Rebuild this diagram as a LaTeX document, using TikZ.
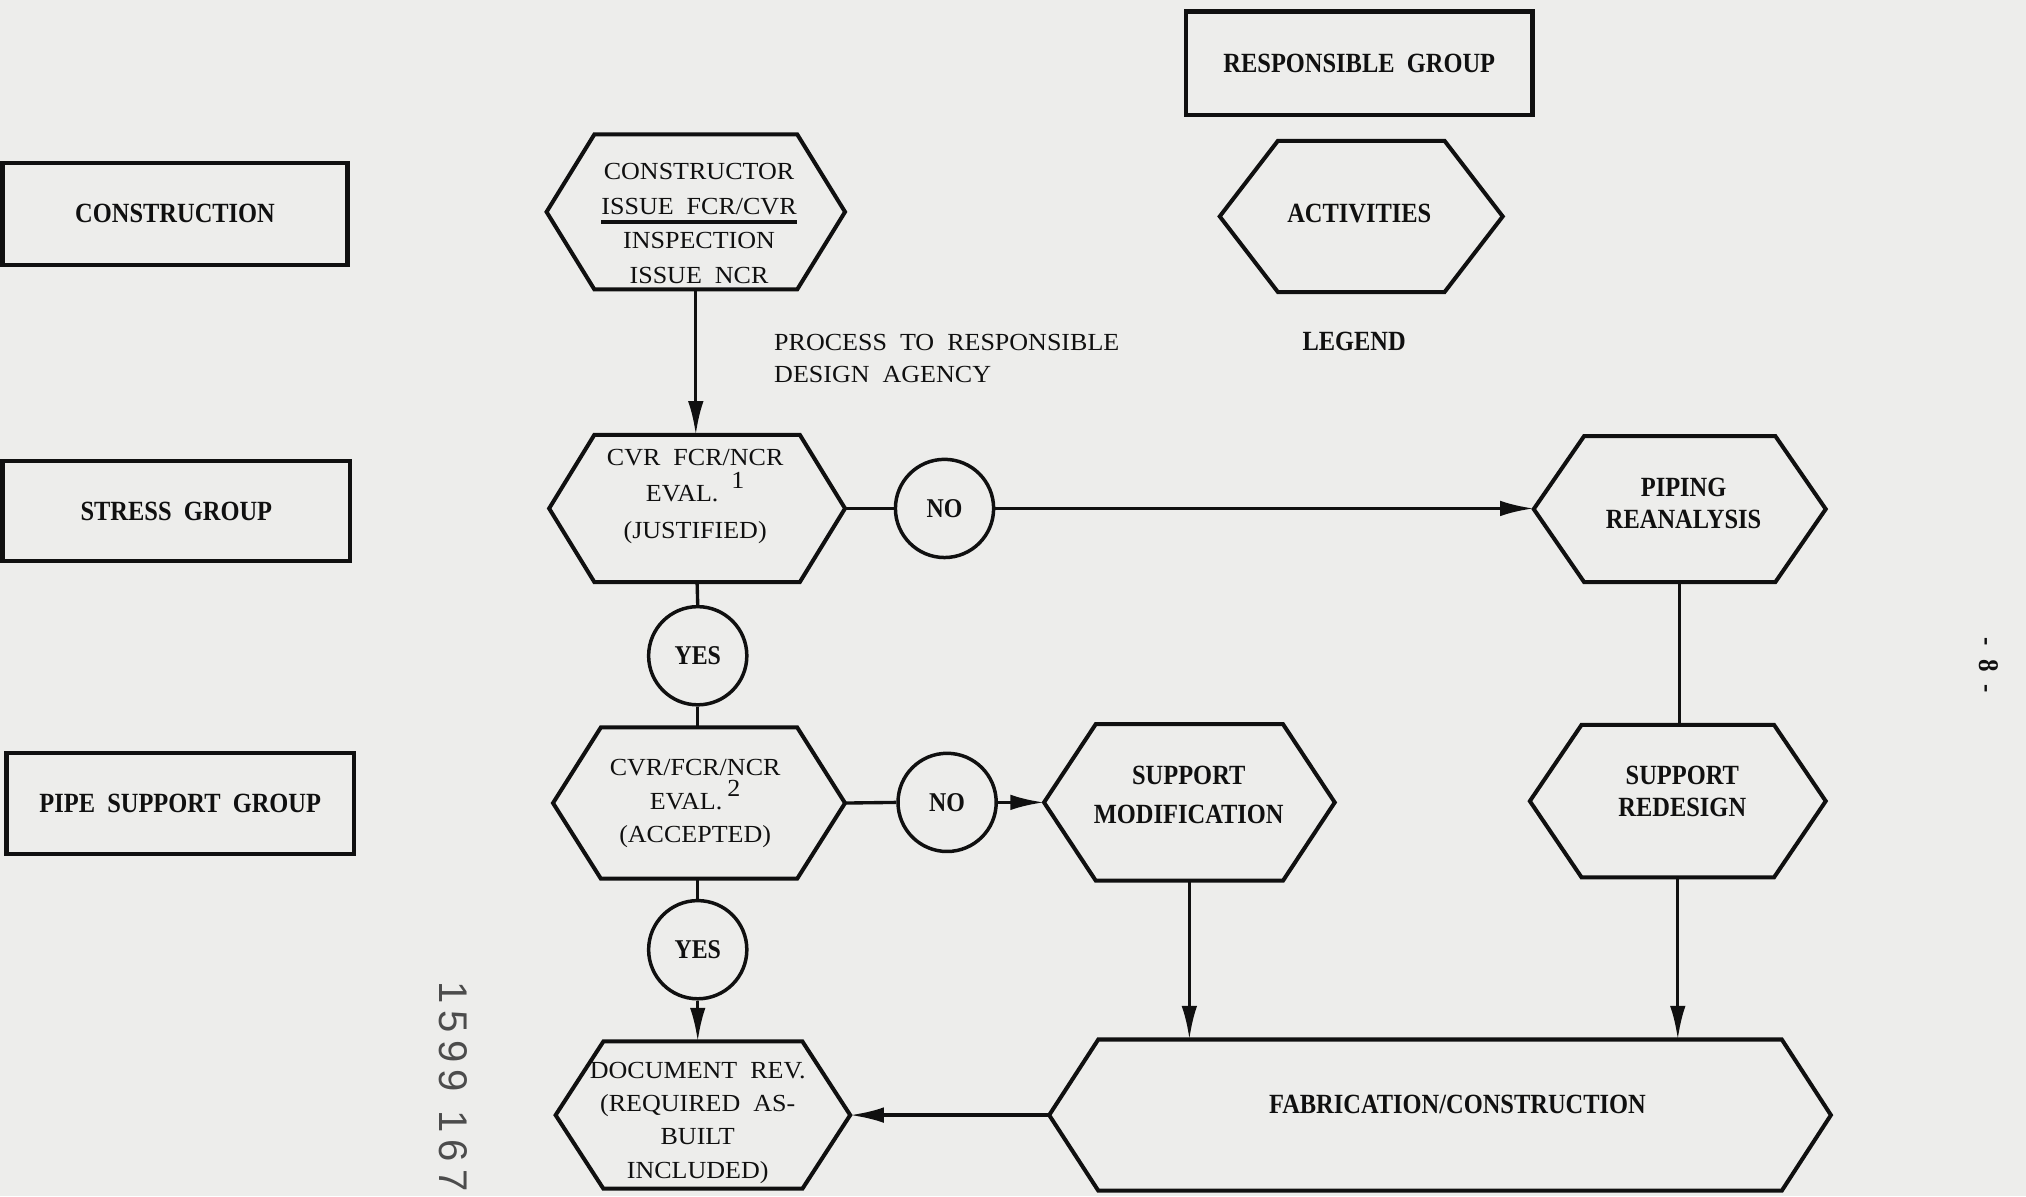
\documentclass[tikz,border=0pt]{standalone}
\usepackage{fontspec}
\setmainfont{Liberation Serif}
\newfontfamily\typew[WordSpace=2, FakeStretch=1.06]{Liberation Serif}
\newfontfamily\boldlab[WordSpace=2, FakeStretch=0.88]{Liberation Serif}
\newfontfamily\stampfont[LetterSpace=18]{Liberation Sans}
\usetikzlibrary{arrows.meta}
\definecolor{paper}{RGB}{237,237,235}
\definecolor{ink}{RGB}{16,16,16}
\newsavebox{\ulbox}
\newcommand{\thickul}[1]{\sbox{\ulbox}{#1}\rlap{\rule[-7.3pt]{\wd\ulbox}{3pt}}\usebox{\ulbox}}
\newcommand{\supnum}[2]{\hspace{#1}\raisebox{10pt}{#2}}
\tikzset{
  hexbox/.style={rectangle, draw=none, inner sep=0pt, outer sep=0pt},
  hexline/.style={draw=ink, line width=3.1pt, line join=miter},
  grpbox/.style={rectangle, draw=ink, line width=3.4pt, inner sep=0pt, outer sep=0pt,
    font=\boldlab\bfseries\fontsize{21.5}{26}\selectfont, text=ink},
  decision/.style={circle, draw=ink, line width=2.7pt, minimum size=76pt, inner sep=0pt,
    font=\boldlab\bfseries\fontsize{21}{24}\selectfont, text=ink},
  typetxt/.style={align=center, inner sep=0pt, text=ink, font=\typew\fontsize{19}{26}\selectfont},
  boldtxt/.style={align=center, inner sep=0pt, text=ink, font=\boldlab\bfseries\fontsize{21.5}{25}\selectfont},
  conn/.style={draw=ink, line width=2.6pt},
  arr/.style={conn, -{Latex[length=26pt,width=12pt]}}
}
% name, cx, cy, w, h, d
\newcommand{\hexshape}[6]{%
  \node[hexbox, minimum width=#4pt, minimum height=#5pt] (#1) at (#2,#3) {};
  \draw[hexline] (#1.west) -- ([xshift=#6pt]#1.north west) -- ([xshift=-#6pt]#1.north east)
    -- (#1.east) -- ([xshift=-#6pt]#1.south east) -- ([xshift=#6pt]#1.south west) -- cycle;
}
\begin{document}
\begin{tikzpicture}[x=1pt,y=-1pt]
\useasboundingbox[fill=paper] (0,0) rectangle (1568,926);

% group boxes
\node[grpbox, minimum width=267pt, minimum height=79pt] (gcon) at (135.5,165.5) {CONSTRUCTION};
\node[grpbox, minimum width=269pt, minimum height=77pt] (gstr) at (136.5,395.5) {STRESS GROUP};
\node[grpbox, minimum width=269pt, minimum height=78pt] (gpip) at (139.5,622) {PIPE SUPPORT GROUP};
\node[grpbox, minimum width=268pt, minimum height=80pt] (gresp) at (1052,49) {RESPONSIBLE GROUP};

% legend
\hexshape{act}{1053.5}{167.5}{219}{117}{45}
\node[boldtxt] (actt) at (1052,165) {ACTIVITIES};
\node[boldtxt] (leg) at (1048,264) {LEGEND};

% activities
\hexshape{con}{538.5}{164}{231}{120}{37}
\node[typetxt, font=\typew\fontsize{19}{26.7}\selectfont] (cont) at (541,173)
  {CONSTRUCTOR\\\thickul{ISSUE FCR/CVR}\\INSPECTION\\ISSUE NCR};

\node[typetxt, align=left, anchor=west, font=\typew\fontsize{19}{25}\selectfont] (proc) at (599,277.5)
  {PROCESS TO RESPONSIBLE\\DESIGN AGENCY};

\hexshape{ev1}{539.5}{393.5}{229}{114}{35}
\node[typetxt, font=\typew\fontsize{19}{28.3}\selectfont] (ev1t) at (538,384)
  {CVR FCR/NCR\\EVAL.\supnum{10pt}{1}\\(JUSTIFIED)};

\hexshape{pip}{1300}{394}{226}{113}{39}
\node[boldtxt] (pipt) at (1303,389.5) {PIPING\\REANALYSIS};

\hexshape{ev2}{541}{621.5}{226}{117}{37}
\node[typetxt] (ev2t) at (538,622)
  {CVR/FCR/NCR\\EVAL.\supnum{4pt}{2}\\(ACCEPTED)};

\hexshape{smod}{920.5}{621}{225}{121}{40}
\node[boldtxt, font=\boldlab\bfseries\fontsize{21.5}{30}\selectfont] (smodt) at (920,615)
  {SUPPORT\\MODIFICATION};

\hexshape{sred}{1298.5}{620}{229}{118}{40}
\node[boldtxt] (sredt) at (1302,612.5) {SUPPORT\\REDESIGN};

\hexshape{doc}{544}{863}{228}{114}{37}
\node[typetxt, font=\typew\fontsize{19}{25.7}\selectfont] (doct) at (540,869)
  {DOCUMENT REV.\\(REQUIRED AS-\\BUILT\hspace*{36pt}\\INCLUDED)};

\hexshape{fab}{1114.5}{863}{605}{117}{38}
\node[boldtxt] (fabt) at (1128,855) {FABRICATION/CONSTRUCTION};

% decisions
\node[decision] (no1) at (731,393.5) {NO};
\node[decision] (yes1) at (540,507.5) {YES};
\node[decision] (no2) at (733,621) {NO};
\node[decision] (yes2) at (540,735) {YES};

% connectors
\draw[arr] (con.south) -- (con.south |- ev1.north);
\draw[conn] (ev1.east) -- (no1.west);
\draw[arr] (no1.east) -- (no1.east -| pip.west);
\draw[conn] (ev1.south) -- (yes1.north);
\draw[conn] (yes1.south) -- (yes1.south |- ev2.north);
\draw[conn] (ev2.east) -- (no2.west);
\draw[arr] (no2.east) -- (smod.west);
\draw[conn] (ev2.south) -- (ev2.south -| yes2.north) -- (yes2.north);
\draw[arr] (yes2.south) -- (yes2.south |- doc.north);
\draw[conn] (pip.south) -- (pip.south |- sred.north);
\draw[arr] (smod.south) -- (smod.south |- fab.north);
\draw[arr] (sred.south) -- (sred.south |- fab.north);
\draw[arr] (fab.west) -- (doc.east);

% margin marks
\node[rotate=-90, inner sep=0pt, text=ink!75, font=\stampfont\fontsize{31}{31}\selectfont] (stamp) at (351,841) {1599 167};
\node[rotate=-90, boldtxt, font=\boldlab\bfseries\fontsize{22}{22}\selectfont] (pg) at (1539,515) {-\hspace{10pt}8\hspace{10pt}-};
\end{tikzpicture}
\end{document}
